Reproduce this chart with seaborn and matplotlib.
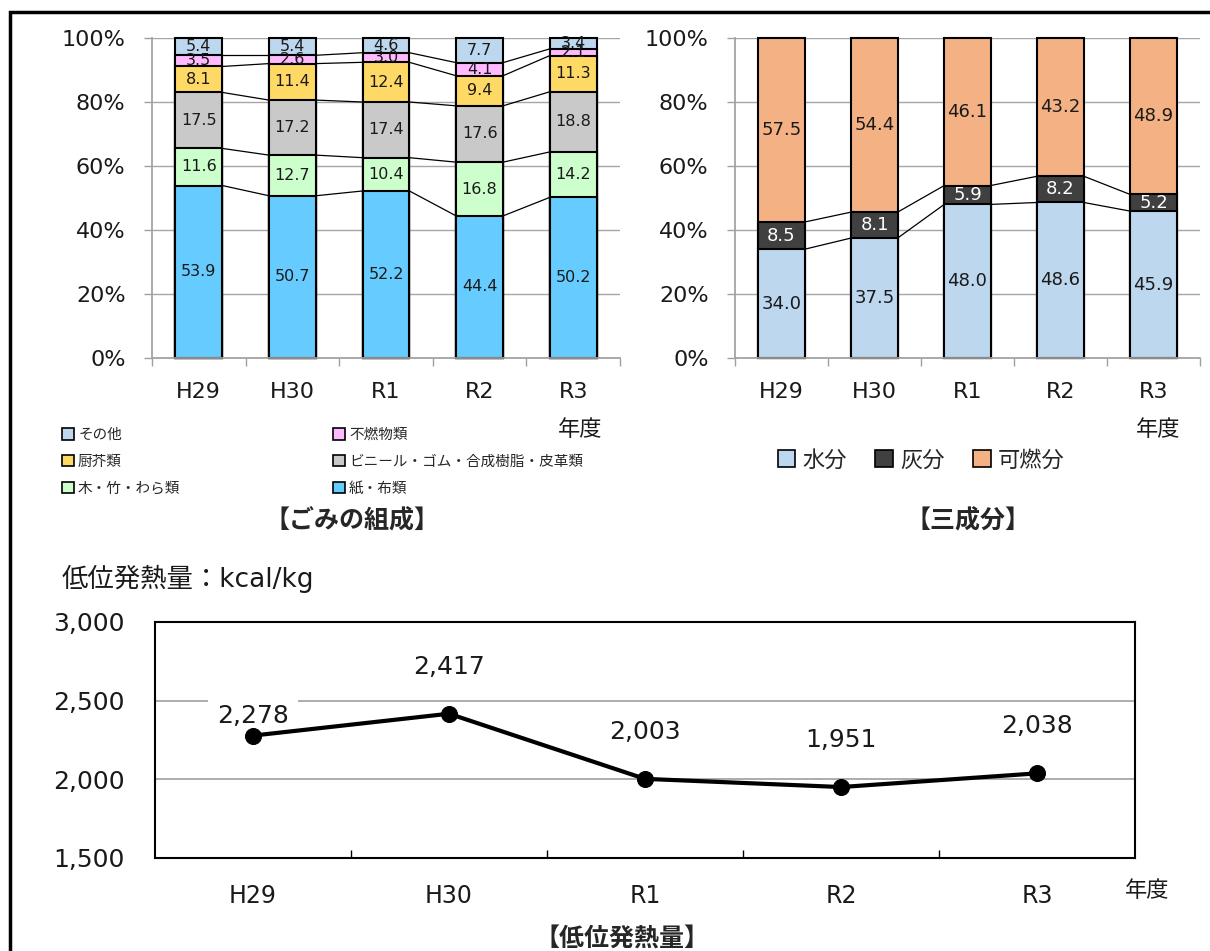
import numpy as np
import pandas as pd
import matplotlib
matplotlib.use('Agg')
from matplotlib import pyplot as plt
from matplotlib.patches import Patch, Rectangle
from matplotlib.ticker import FixedLocator, FuncFormatter
import seaborn as sns

years = ['H29', 'H30', 'R1', 'R2', 'R3']

# ごみの組成 (%) 下から順
paper = [53.9, 50.7, 52.2, 44.4, 50.2]
wood = [11.6, 12.7, 10.4, 16.8, 14.2]
vinyl = [17.5, 17.2, 17.4, 17.6, 18.8]
kitchen = [8.1, 11.4, 12.4, 9.4, 11.3]
incomb = [3.5, 2.6, 3.0, 4.1, 2.1]
other = [5.4, 5.4, 4.6, 7.7, 3.4]
comp_names = ['紙・布類', '木・竹・わら類', 'ビニール・ゴム・合成樹脂・皮革類', '厨芥類', '不燃物類', 'その他']
comp_colors = ['#66CCFF', '#CCFFCC', '#C9C9C9', '#FFD966', '#FFB9FF', '#BDD7EE']

# 三成分 (%)
water = [34.0, 37.5, 48.0, 48.6, 45.9]
ash = [8.5, 8.1, 5.9, 8.2, 5.2]
comb = [57.5, 54.4, 46.1, 43.2, 48.9]
three_names = ['水分', '灰分', '可燃分']
three_colors = ['#BDD7EE', '#404040', '#F4B183']

# 低位発熱量 kcal/kg
lhv = [2278, 2417, 2003, 1951, 2038]
label_dy = [20, 47, 47, 47, 47]  # px above point

sns.set_theme(style='white')
plt.rcParams['font.family'] = ['DejaVu Sans', 'Noto Sans CJK JP']

W, H = 1210, 951
fig = plt.figure(figsize=(W / 100, H / 100), dpi=100)


def fx(px):
    return px / W


def fy(py):
    return 1 - py / H


ax1 = fig.add_axes([fx(152), fy(358), fx(620 - 152), (358 - 38) / H])
ax2 = fig.add_axes([fx(735), fy(358), fx(1200 - 735), (358 - 38) / H])
ax3 = fig.add_axes([fx(155), fy(858), fx(1135 - 155), (858 - 622) / H])


def stacked(ax, series, colors, txt_colors, fs):
    cum = np.cumsum(np.array(series), axis=0)
    # 累積値を上から重ねて描く
    for k in range(len(series) - 1, -1, -1):
        sns.barplot(x=years, y=cum[k], color=colors[k], saturation=1, width=0.5,
                    edgecolor='black', linewidth=1.5, ax=ax, zorder=2)
    for p in ax.patches:
        p.set_clip_on(False)
    # 区分線
    for k in range(len(series) - 1):
        for i in range(len(years) - 1):
            ax.plot([i + 0.25, i + 0.75], [cum[k][i], cum[k][i + 1]],
                    color='black', lw=0.9, zorder=3)
    for k, s in enumerate(series):
        for i, v in enumerate(s):
            ax.text(i, cum[k][i] - v / 2, f'{v:.1f}', ha='center', va='center',
                    fontsize=fs, color=txt_colors[k], zorder=5)


def style_top(ax):
    ax.set_xlim(-0.5, 4.5)
    ax.set_ylim(0, 100)
    ax.set_yticks(range(0, 101, 20))
    ax.yaxis.set_major_formatter(FuncFormatter(lambda v, p: f'{v:.0f}%'))
    ax.grid(axis='y', color='#A6A6A6', lw=1)
    ax.grid(axis='x', visible=False)
    ax.set_axisbelow(True)
    for s in ['top', 'right']:
        ax.spines[s].set_visible(False)
    for s in ['left', 'bottom']:
        ax.spines[s].set_color('#A0A0A0')
    ax.xaxis.set_minor_locator(FixedLocator(np.arange(-0.5, 5, 1)))
    ax.tick_params(axis='x', which='major', length=0, pad=17, labelsize=16, colors='#1a1a1a')
    ax.tick_params(axis='x', which='minor', length=6, width=1, color='#A0A0A0',
                   direction='out', bottom=True)
    ax.tick_params(axis='y', length=6, width=1, color='#A0A0A0', pad=13,
                   labelsize=16, labelcolor='#1a1a1a', left=True)
    ax.set_xlabel('')
    ax.set_ylabel('')


stacked(ax1, [paper, wood, vinyl, kitchen, incomb, other], comp_colors,
        ['#1a1a1a'] * 6, 11.5)
style_top(ax1)

stacked(ax2, [water, ash, comb], three_colors, ['#1a1a1a', 'white', '#1a1a1a'], 13)
style_top(ax2)

# 低位発熱量
sns.lineplot(x=years, y=lhv, ax=ax3, color='black', lw=3, marker='o',
             markersize=11.5, markeredgecolor='black', sort=False, zorder=4)
for i, v in enumerate(lhv):
    ax3.annotate(f'{v:,}', (i, v), xytext=(0, label_dy[i]), textcoords='offset pixels',
                 ha='center', va='center', fontsize=18, color='#1a1a1a', zorder=3,
                 bbox=dict(boxstyle='square,pad=0.35', fc='white', ec='none'))
ax3.set_xlim(-0.5, 4.5)
ax3.set_ylim(1500, 3000)
ax3.set_yticks([1500, 2000, 2500, 3000])
ax3.yaxis.set_major_formatter(FuncFormatter(lambda v, p: f'{v:,.0f}'))
ax3.grid(axis='y', color='#A6A6A6', lw=1.3)
ax3.grid(axis='x', visible=False)
ax3.set_axisbelow(True)
for s in ax3.spines.values():
    s.set_color('black')
    s.set_linewidth(1.5)
ax3.xaxis.set_minor_locator(FixedLocator(np.arange(0.5, 4, 1)))
ax3.tick_params(axis='x', which='major', length=0, pad=19, labelsize=17, colors='#1a1a1a')
ax3.tick_params(axis='x', which='minor', length=6, width=1, color='black',
                direction='in', bottom=True)
ax3.tick_params(axis='y', length=0, pad=22, labelsize=18, labelcolor='#1a1a1a')
ax3.set_xlabel('')
ax3.set_ylabel('')

# 凡例
def patch(c):
    return Patch(facecolor=c, edgecolor='black', linewidth=1.2)

col1 = [5, 3, 1]
col2 = [4, 2, 0]
for cols, x0 in [(col1, 62), (col2, 333)]:
    fig.legend(handles=[patch(comp_colors[k]) for k in cols],
               labels=[comp_names[k] for k in cols],
               loc='upper left', bbox_to_anchor=(fx(x0), fy(427)), frameon=False,
               fontsize=10.5, handlelength=0.8, handleheight=0.8, handletextpad=0.3,
               labelspacing=0.8, borderaxespad=0, borderpad=0)

fig.legend(handles=[patch(c) for c in three_colors], labels=three_names, ncol=3,
           loc='center', bbox_to_anchor=(fx(921), fy(460)), frameon=False,
           fontsize=16, handlelength=0.8, handleheight=0.8, handletextpad=0.3,
           columnspacing=1.3, borderaxespad=0, borderpad=0)

# テキスト
fig.text(fx(580), fy(430), '年度', ha='center', va='center', fontsize=16, color='#1a1a1a')
fig.text(fx(1158), fy(430), '年度', ha='center', va='center', fontsize=16, color='#1a1a1a')
fig.text(fx(1147), fy(891), '年度', ha='center', va='center', fontsize=16, color='#1a1a1a')
fig.text(fx(352), fy(521), '【ごみの組成】', ha='center', va='center', fontsize=18,
         fontweight='bold')
fig.text(fx(968), fy(521), '【三成分】', ha='center', va='center', fontsize=18,
         fontweight='bold')
fig.text(fx(622), fy(939), '【低位発熱量】', ha='center', va='center', fontsize=18,
         fontweight='bold')
fig.text(fx(62), fy(579), '低位発熱量：kcal/kg', ha='left', va='center', fontsize=19,
         color='#1a1a1a')

fig.add_artist(Rectangle((fx(10), -0.05), 1.2, fy(12) + 0.05, transform=fig.transFigure,
                         fill=False, ec='black', lw=2.5))

fig.savefig('out.png', dpi=100)
